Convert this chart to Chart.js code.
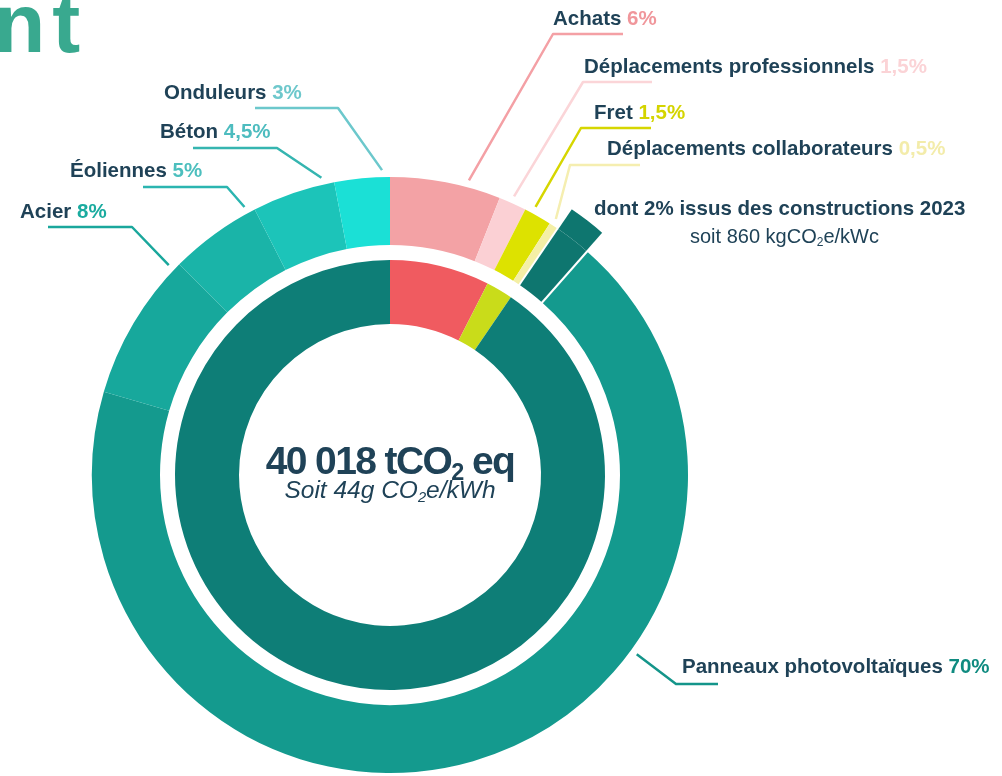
<!DOCTYPE html>
<html lang="fr">
<head>
<meta charset="utf-8">
<script src="https://cdn.jsdelivr.net/npm/chart.js@4.4.1/dist/chart.umd.min.js"></script>
<style>
html, body { margin: 0; padding: 0; background: #fff; }
#page { position: relative; width: 1002px; height: 776px; overflow: hidden; font-family: "Liberation Sans", Arial, sans-serif; }
#page canvas { position: absolute; left: 0; top: 0; }
.lbl { position: absolute; white-space: nowrap; line-height: 1; font-weight: bold; color: #1f4257; }
.lbl sub { font-size: 0.6em; vertical-align: -0.25em; line-height: 0; }
</style>
</head>
<body>
<div id="page">
	<canvas id="ring" width="1002" height="776"></canvas>
</div>
<script>
// outer ring, clockwise from the top
var categories = [
	'Achats',
	'Déplacements professionnels',
	'Fret',
	'Déplacements collaborateurs',
	'Panneaux (constructions 2023)',
	'Panneaux photovoltaïques',
	'Acier',
	'Éoliennes',
	'Béton',
	'Onduleurs',
];
var shares = [6, 1.5, 1.5, 0.5, 2, 68, 8, 5, 4.5, 3];

// inner ring
var innerCategories = ['Achats et déplacements professionnels', 'Fret et déplacements collaborateurs', 'Immobilisations'];
var innerShares = [7.5, 2, 90.5];

var totalEmissions = '40 018';
var intensityPerKwh = '44g';
var intensityPerKwc = '860';

var colours = ['#f3a2a5', '#fbd0d4', '#dde200', '#f4efa6', '#0e766f', '#149a8e', '#17a89c', '#1ab4a8', '#1cc4b9', '#1be0d6'];
var pctColours = ['#f0969b', '#fbd3d6', '#d4d400', '#f3ecaa', null, '#0f8b80', '#1aab9f', '#4cbfbe', '#4dbcbf', '#6ec8cc'];
var lineColours = ['#f4a0a5', '#fbd5d8', '#d6d600', '#f5eeb0', null, '#14958a', '#1aa79c', '#2bb5b0', '#35b5b0', '#6cc8cc'];
var innerColours = ['#f05b60', '#c9dc1a', '#0e7e77'];

// label text spot (x, baseline) and leader: underline far end, elbow, y, aimed angle (deg from top)
var labelSpots = {
	0: { x: 553, y: 25, far: 623, elbow: 553, ly: 34, angle: 15 },
	1: { x: 584, y: 73, far: 652, elbow: 583, ly: 82, angle: 24 },
	2: { x: 594, y: 119, far: 651, elbow: 581, ly: 128, angle: 27.5 },
	3: { x: 607, y: 155, far: 640, elbow: 570, ly: 165, angle: 29.5 },
	5: { x: 682, y: 673, far: 718, elbow: 676, ly: 684, angle: 126 },
	6: { x: 20, y: 218, far: 48, elbow: 132, ly: 227, angle: -42 },
	7: { x: 70, y: 177, far: 143, elbow: 227, ly: 187, angle: -25.6 },
	8: { x: 160, y: 138, far: 193, elbow: 277, ly: 148, angle: -13 },
	9: { x: 164, y: 99, far: 255, elbow: 338, ly: 108, angle: -1.3 },
};

function pct(v) {
	return String(v).replace('.', ',') + '%';
}

function rad(d) {
	return d * Math.PI / 180;
}

function addText(html, x, baseline, size, extra) {
	var div = document.createElement('div');
	div.className = 'lbl';
	div.innerHTML = html;
	div.style.fontSize = size + 'px';
	div.style.left = x + 'px';
	div.style.top = (baseline - 0.8465 * size) + 'px';
	for (var k in extra) {
		div.style[k] = extra[k];
	}
	document.getElementById('page').appendChild(div);
	return div;
}

var leaderPlugin = {
	id: 'leaders',
	afterDatasetsDraw: function(chart) {
		var ctx = chart.ctx;
		var meta = chart.getDatasetMeta(1);
		var top = chart.getDatasetMeta(0).data[4];

		ctx.save();
		// white cuts each side of the 2023 slice
		ctx.strokeStyle = '#fff';
		ctx.lineWidth = 2;
		[top.startAngle, top.endAngle].forEach(function(a) {
			ctx.beginPath();
			ctx.moveTo(top.x + Math.cos(a) * 224, top.y + Math.sin(a) * 224);
			ctx.lineTo(top.x + Math.cos(a) * (top.outerRadius + 3), top.y + Math.sin(a) * (top.outerRadius + 3));
			ctx.stroke();
		});

		ctx.lineWidth = 2.5;
		ctx.lineJoin = 'round';
		for (var i in labelSpots) {
			var s = labelSpots[i];
			var arc = meta.data[i];
			var pad = Math.min(rad(1.5), (arc.endAngle - arc.startAngle) * 0.3);
			var a = rad(s.angle - 90);
			while (a < arc.startAngle - Math.PI) a += 2 * Math.PI;
			while (a > arc.startAngle + Math.PI) a -= 2 * Math.PI;
			a = Math.min(Math.max(a, arc.startAngle + pad), arc.endAngle - pad);
			var r = arc.outerRadius + 7;
			ctx.strokeStyle = lineColours[i];
			ctx.beginPath();
			ctx.moveTo(s.far, s.ly);
			ctx.lineTo(s.elbow, s.ly);
			ctx.lineTo(arc.x + Math.cos(a) * r, arc.y + Math.sin(a) * r);
			ctx.stroke();
		}
		ctx.restore();
	}
};

var config = {
	type: 'doughnut',
	data: {
		labels: categories,
		datasets: [
			{
				// raised part of the 2023 slice
				data: shares,
				backgroundColor: shares.map(function(v, i) { return i == 4 ? colours[4] : 'rgba(0,0,0,0)'; }),
				borderWidth: 0,
				weight: 24,
			},
			{
				data: shares,
				backgroundColor: colours,
				borderWidth: 0,
				weight: 68,
			},
			{
				// white gap between the rings
				data: innerShares,
				backgroundColor: 'rgba(0,0,0,0)',
				borderWidth: 0,
				weight: 15,
			},
			{
				label: 'inner',
				data: innerShares,
				backgroundColor: innerColours,
				borderWidth: 0,
				weight: 64,
			},
		]
	},
	options: {
		responsive: false,
		animation: false,
		events: [],
		radius: 322,
		cutout: (151 / 322 * 100) + '%',
		rotation: 0,
		clip: false,
		layout: {
			padding: { left: 0, right: 222, top: 174, bottom: 0 }
		},
		plugins: {
			legend: { display: false },
			tooltip: { enabled: false },
		}
	},
	plugins: [leaderPlugin]
};

var myChart = new Chart(document.getElementById('ring'), config);

// heading fragment
addText('nt', -6, 52, 84, { color: '#39a98f', letterSpacing: '7px' });

// ring labels
for (var i in labelSpots) {
	var s = labelSpots[i];
	var value = i == 5 ? shares[4] + shares[5] : shares[i];
	addText(categories[i] + ' <span style="color:' + pctColours[i] + '">' + pct(value) + '</span>', s.x, s.y, 20.5, {});
}

addText('dont ' + pct(shares[4]) + ' issus des constructions 2023', 594, 215, 20.5, {});
addText('soit ' + intensityPerKwc + ' kgCO<sub>2</sub>e/kWc', 690, 243, 20, { fontWeight: 'normal' });

// centre
addText(totalEmissions + ' tCO<sub>2</sub> eq', 190, 474, 39, { width: '400px', textAlign: 'center', letterSpacing: '-1.6px' });
addText('Soit ' + intensityPerKwh + ' CO<sub>2</sub>e/kWh', 190, 499, 24.5, { width: '400px', textAlign: 'center', fontWeight: 'normal', fontStyle: 'italic' });
</script>
</body>
</html>
